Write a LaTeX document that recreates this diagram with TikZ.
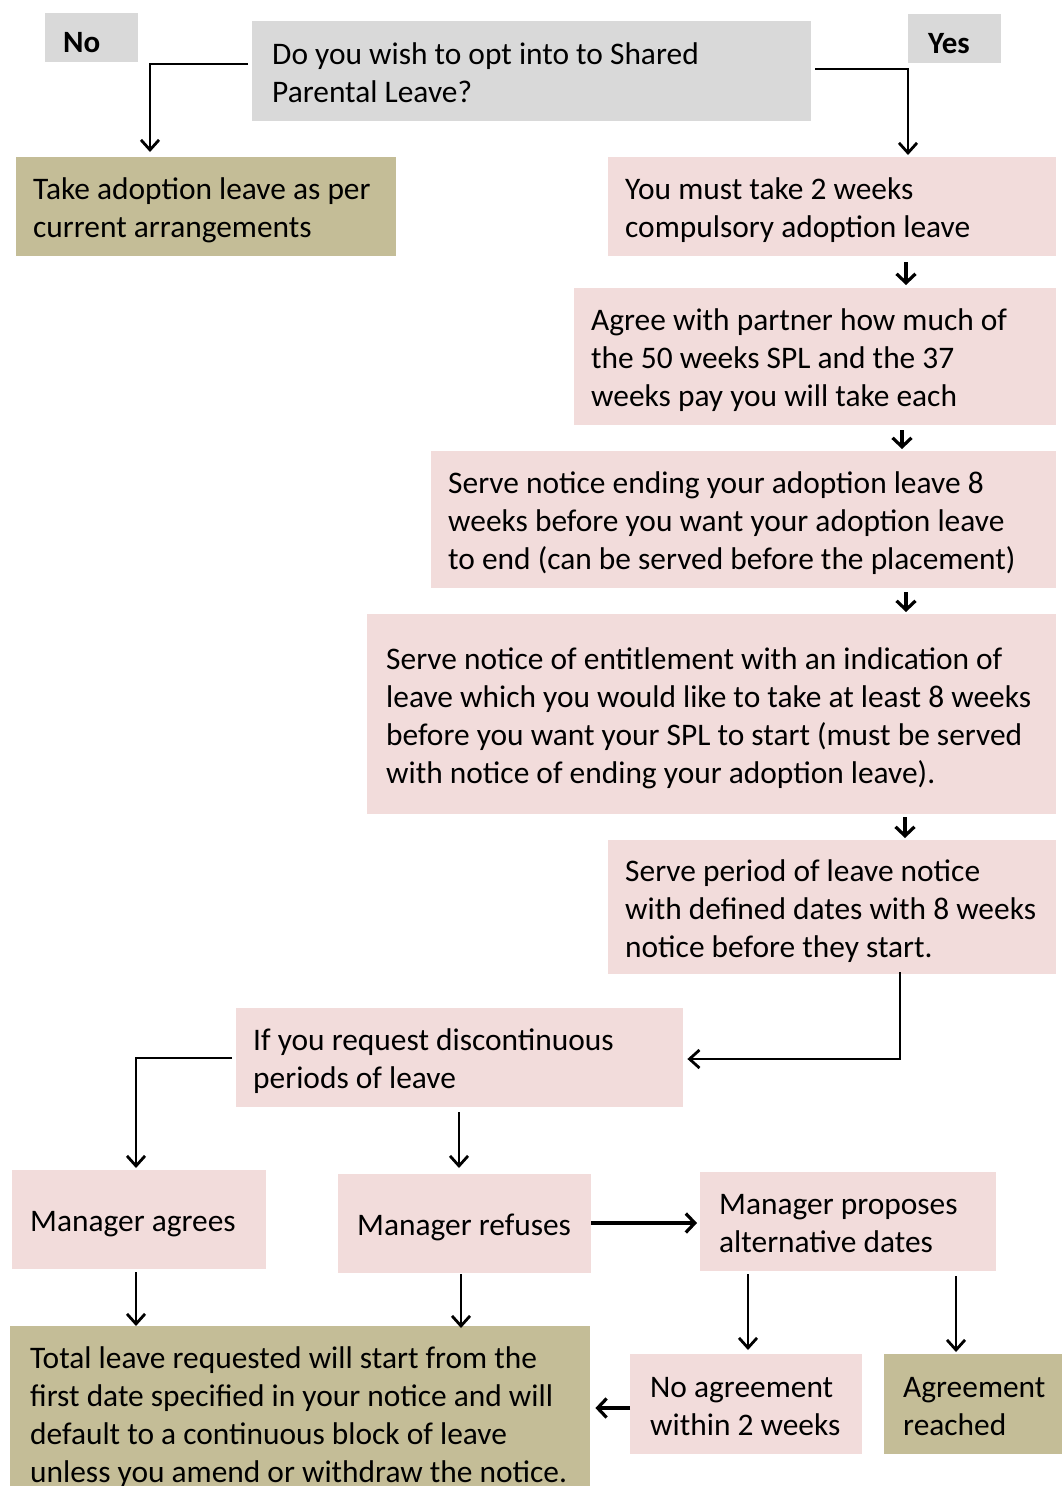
\documentclass[tikz,border=0pt]{standalone}
\usepackage{fontspec}
\setmainfont{Carlito}
\usetikzlibrary{arrows.meta}
\definecolor{gboxc}{HTML}{D9D9D9}
\definecolor{oboxc}{HTML}{C4BD97}
\definecolor{pboxc}{HTML}{F2DCDB}
\tikzset{
  base/.style={anchor=north west, inner ysep=0pt, align=flush left, text=black,
    font=\fontsize{31.4}{38}\selectfont},
  box/.style={base,
    execute at begin node={\rule{0pt}{32pt}},
    execute at end node={\rule[-8pt]{0pt}{8pt}}},
  lbl/.style={base, fill=gboxc, font=\fontsize{31}{38}\selectfont\bfseries,
    execute at begin node={\rule{0pt}{29pt}}},
  graybox/.style={box, fill=gboxc},
  olivebox/.style={box, fill=oboxc},
  pinkbox/.style={box, fill=pboxc},
  arr/.style={draw=black, line width=2.6pt, -{Straight Barb[length=10pt,width=18pt,line width=2.8pt]}},
  sarr/.style={draw=black, line width=3.5pt, -{Straight Barb[length=9pt,width=19pt,line width=3.2pt]}},
}
\begin{document}
\begin{tikzpicture}[x=1pt,y=-1pt]
\useasboundingbox (0,0) rectangle (1062,1486);
\clip (0,0) rectangle (1062,1486);
% labels
\node[lbl, minimum height=49pt, inner xsep=18pt, text width=57pt] (no) at (45,13) {No};
\node[lbl, minimum height=49pt, inner xsep=20pt, text width=53pt] (yes) at (908,14) {Yes};
% question
\node[graybox, minimum height=100pt, inner xsep=20pt, text width=519pt] (q) at (252,21) {Do you wish to opt into to Shared\\Parental Leave?};
% boxes
\node[olivebox, minimum height=99pt, inner xsep=17pt, text width=346pt] (b1) at (16,157) {Take adoption leave as per\\current arrangements};
\node[pinkbox, minimum height=99pt, inner xsep=17pt, text width=414pt] (b2) at (608,157) {You must take 2 weeks\\compulsory adoption leave};
\node[pinkbox, minimum height=137pt, inner xsep=17pt, text width=448pt] (b3) at (574,288) {Agree with partner how much of\\the 50 weeks SPL and the 37\\weeks pay you will take each};
\node[pinkbox, minimum height=137pt, inner xsep=17pt, text width=591pt] (b4) at (431,451) {Serve notice ending your adoption leave 8\\weeks before you want your adoption leave\\to end (can be served before the placement)};
\node[pinkbox, minimum height=200pt, inner xsep=19pt, text width=651pt] (b5) at (367,614) {Serve notice of entitlement with an indication of\\leave which you would like to take at least 8 weeks\\before you want your SPL to start (must be served\\with notice of ending your adoption leave).};
\node[pinkbox, minimum height=134pt, inner xsep=17pt, text width=414pt] (b6) at (608,840) {Serve period of leave notice\\with defined dates with 8 weeks\\notice before they start.};
\node[pinkbox, minimum height=99pt, inner xsep=17pt, text width=413pt] (b7) at (236,1008) {If you request discontinuous\\periods of leave};
\node[pinkbox, minimum height=99pt, inner xsep=18pt, text width=218pt] (b8) at (12,1170) {Manager agrees};
\node[pinkbox, minimum height=99pt, inner xsep=19pt, text width=215pt] (b9) at (338,1174) {Manager refuses};
\node[pinkbox, minimum height=99pt, inner xsep=19pt, text width=258pt] (b10) at (700,1172) {Manager proposes\\alternative dates};
\node[olivebox, minimum height=175pt, inner xsep=20pt, text width=540pt] (b11) at (10,1326) {Total leave requested will start from the\\first date specified in your notice and will\\default to a continuous block of leave\\unless you amend or withdraw the notice.};
\node[pinkbox, minimum height=100pt, inner xsep=20pt, text width=192pt] (b12) at (630,1354) {No agreement\\within 2 weeks};
\node[olivebox, minimum height=100pt, inner xsep=19pt, text width=140pt] (b13) at (884,1354) {Agreement\\reached};
% connectors
\draw[arr] ([shift={(-4,43)}]q.north west) -| ([shift={(134,-5)}]b1.north west);
\draw[arr] ([shift={(4,48)}]q.north east) -| ([shift={(300,-2)}]b2.north west);
\draw[sarr] ([shift={(298,6)}]b2.south west) -- ([shift={(332,-3)}]b3.north west);
\draw[sarr] ([shift={(328,5)}]b3.south west) -- ([shift={(471,-2)}]b4.north west);
\draw[sarr] ([shift={(475,4)}]b4.south west) -- ([shift={(539,-2)}]b5.north west);
\draw[sarr] ([shift={(538,3)}]b5.south west) -- ([shift={(297,-2)}]b6.north west);
\draw[arr] ([shift={(292,-2)}]b6.south west) |- ([shift={(4,51)}]b7.north east);
\draw[arr] ([shift={(-4,50)}]b7.north west) -| ([shift={(124,-2)}]b8.north west);
\draw[arr] ([shift={(223,5)}]b7.south west) -- ([shift={(121,-6)}]b9.north west);
\draw[sarr] ([shift={(0,49)}]b9.north east) -- ([shift={(-3,51)}]b10.north west);
\draw[arr] ([shift={(124,3)}]b8.south west) -- ([shift={(126,0)}]b11.north west);
\draw[arr] ([shift={(123,1)}]b9.south west) -- ([shift={(451,2)}]b11.north west);
\draw[arr] ([shift={(48,3)}]b10.south west) -- ([shift={(118,-4)}]b12.north west);
\draw[arr] ([shift={(256,5)}]b10.south west) -- ([shift={(72,-2)}]b13.north west);
\draw[sarr] ([shift={(0,54)}]b12.north west) -- ([shift={(5,82)}]b11.north east);
\end{tikzpicture}
\end{document}
